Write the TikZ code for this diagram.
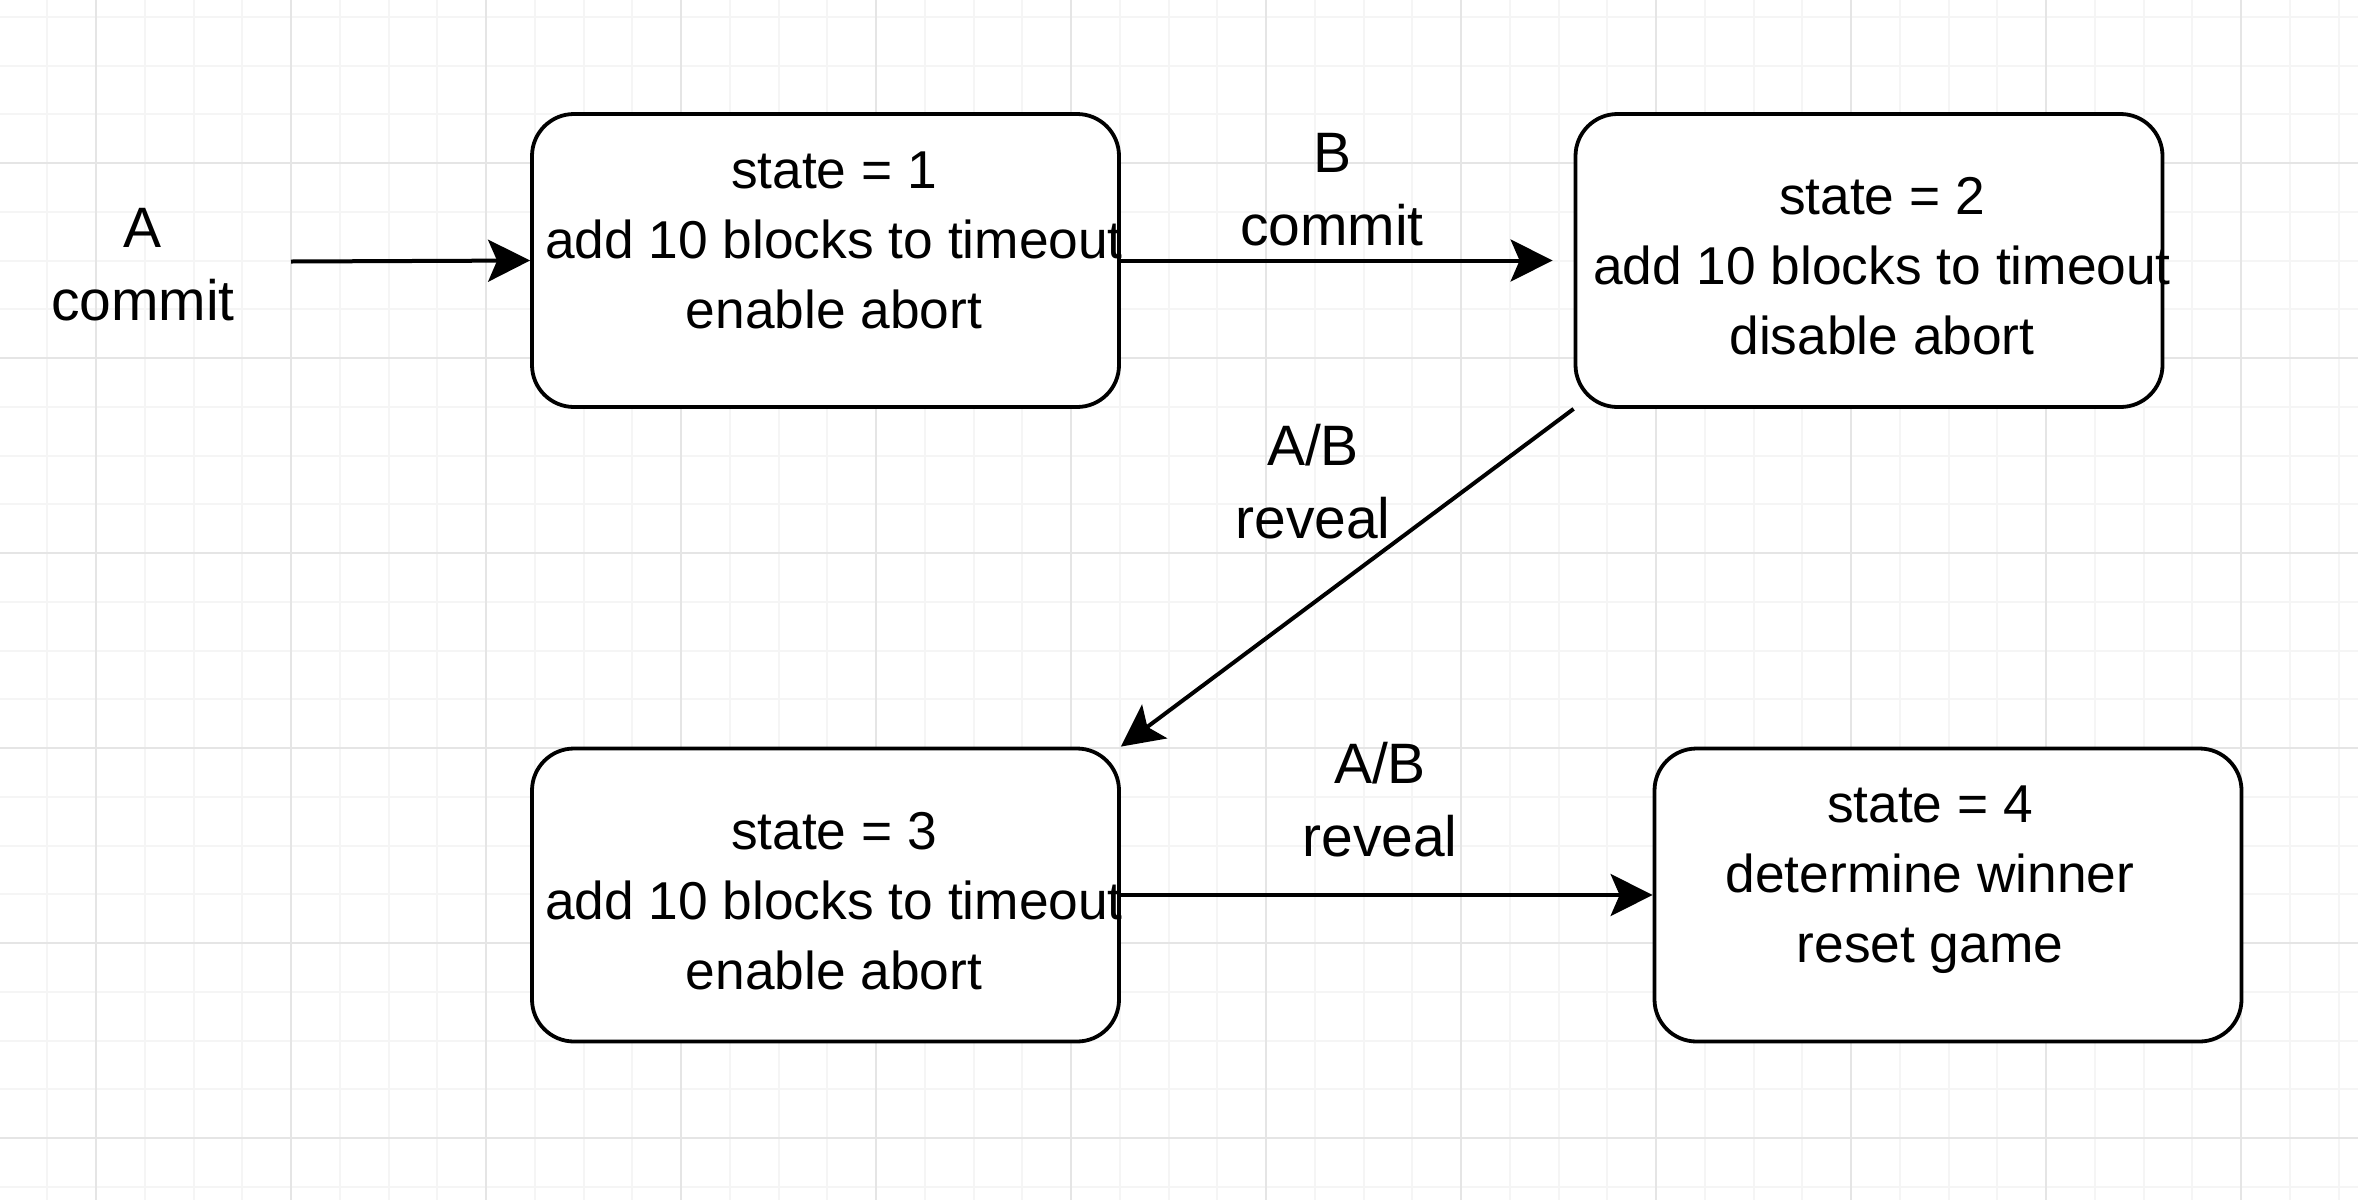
\documentclass[tikz,border=0pt]{standalone}
\usepackage{fontspec}
\setmainfont{Liberation Sans}
\usetikzlibrary{arrows.meta}
\tikzset{
  minorgrid/.style={draw=black!4, line width=2pt},
  majorgrid/.style={draw=black!10, line width=2pt},
  statebox/.style={draw=black, line width=3.8pt, rounded corners=42pt, fill=white,
    minimum width=587pt, minimum height=293pt, inner sep=0pt},
  boxtext/.style={align=center, anchor=base, inner sep=0pt,
    font=\fontsize{53.3}{70}\selectfont},
  edgelabel/.style={align=center, anchor=base, inner sep=0pt,
    font=\fontsize{57}{73}\selectfont},
  conn/.style={line width=4pt, -{Stealth[length=42pt, width=42pt, inset=9pt]}}
}
\begin{document}
\begin{tikzpicture}[x=1pt, y=-1pt]
\useasboundingbox (0,0) rectangle (2358,1200);
\fill[white] (0,0) rectangle (2358,1200);
% grid
\foreach \k in {0,...,48} {\draw[minorgrid] (47.25+48.75*\k,0) -- (47.25+48.75*\k,1200);}
\foreach \k in {0,...,24} {\draw[minorgrid] (0,16.75+48.75*\k) -- (2358,16.75+48.75*\k);}
\foreach \k in {0,...,11} {\draw[majorgrid] (96+195*\k,0) -- (96+195*\k,1200);}
\foreach \k in {0,...,5} {\draw[majorgrid] (0,163+195*\k) -- (2358,163+195*\k);}

% state boxes
\node[statebox] (s1) at (825.5,260.5) {};
\node[statebox] (s2) at (1869,260.5) {};
\node[statebox] (s3) at (825.5,895) {};
\node[statebox] (s4) at (1948,895) {};

% text (base anchor = baseline of last line)
\node[boxtext] (t1) at (834,328) {state = 1\\add 10 blocks to timeout\\enable abort};
\node[boxtext] (t2) at (1882,354) {state = 2\\add 10 blocks to timeout\\disable abort};
\node[boxtext] (t3) at (834,989) {state = 3\\add 10 blocks to timeout\\enable abort};
\node[boxtext] (t4) at (1930,962) {state = 4\\determine winner\\reset game};

% labels
\node[edgelabel] (la) at (143,320) {A\\commit};
\node[edgelabel] (lb) at (1332,245) {B\\commit};
\node[edgelabel] (lc) at (1313,538) {A/B\\reveal};
\node[edgelabel] (ld) at (1380,856) {A/B\\reveal};

% connectors
\coordinate (start) at (291,261.5);
\draw[conn] (start) -- (s1.west);
\draw[conn] (s1.east) -- ([xshift=-21pt]s2.west);
\draw[conn] (s2.south west) -- (s3.north east);
\draw[conn] (s3.east) -- (s4.west);
\end{tikzpicture}
\end{document}
